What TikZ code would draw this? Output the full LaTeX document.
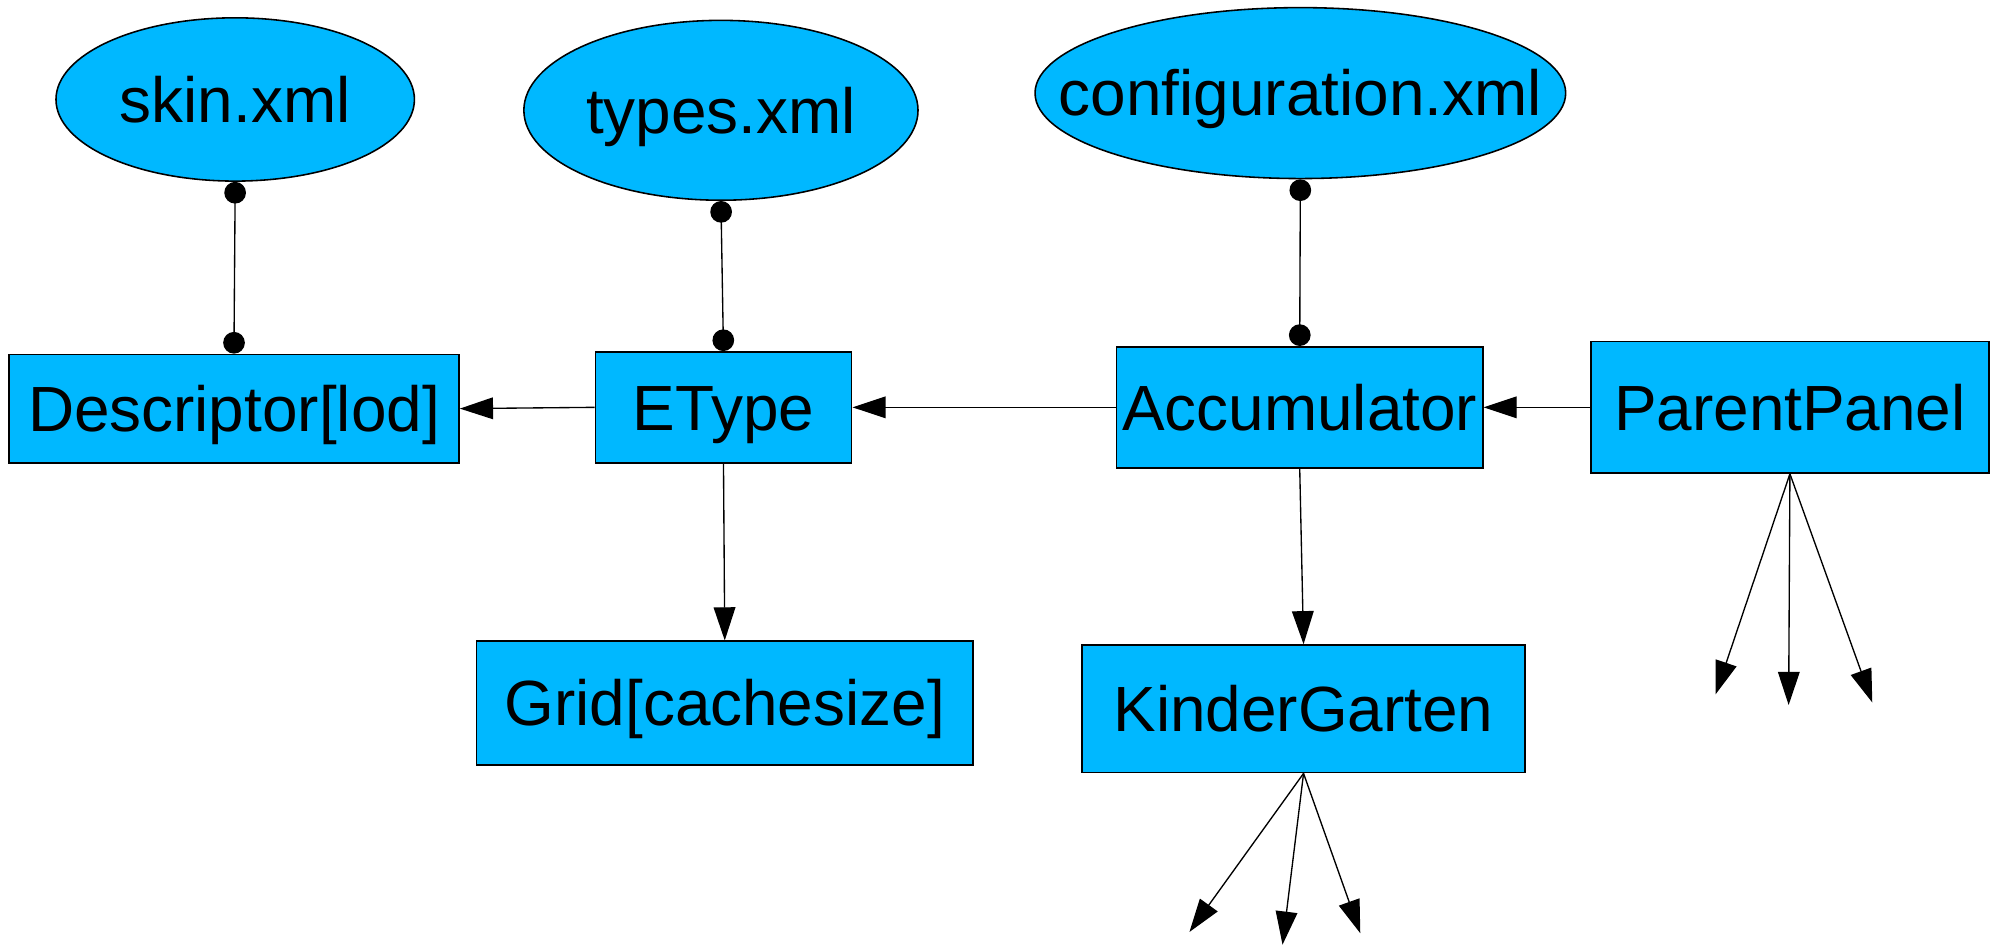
\documentclass[tikz,border=0pt]{standalone}
\usepackage{fontspec}
\setmainfont{Liberation Sans}
\usepackage{tikz}
\usetikzlibrary{shapes.geometric,arrows.meta}

\definecolor{boxblue}{RGB}{0,184,255}
\tikzset{
  box/.style={rectangle,draw=black,fill=boxblue,line width=0.35pt,inner sep=0pt},
  xmlfile/.style={ellipse,draw=black,fill=boxblue,line width=0.35pt,inner sep=0pt},
  uses/.style={line width=0.3pt,-{Triangle[length=2.6mm,width=1.7mm]}},
  reads/.style={line width=0.3pt,{Circle[length=1.7mm]}-{Circle[length=1.7mm]}},
}

\begin{document}
\begin{tikzpicture}[x=0.01cm,y=-0.01cm,font=\fontsize{14.25pt}{17pt}\selectfont,
  every node/.append style={text height=10.2pt,text depth=0pt}]
\useasboundingbox (0,0) rectangle (1568,741);
% xml files
\node[xmlfile,minimum width=2.81cm,minimum height=1.28cm,label=center:{skin.xml}] (skin) at (184.5,78) {};
\node[xmlfile,minimum width=3.09cm,minimum height=1.41cm,label=center:{types.xml}] (types) at (565.5,86.5) {};
\node[xmlfile,minimum width=4.16cm,minimum height=1.34cm,label=center:{configuration.xml}] (config) at (1020,73) {};
% classes
\node[box,minimum width=3.53cm,minimum height=0.85cm] (desc) at (183.5,320.5) {Descriptor[lod]};
\node[box,minimum width=2.01cm,minimum height=0.87cm] (etype) at (567.5,319.5) {EType};
\node[box,minimum width=2.87cm,minimum height=0.95cm] (accum) at (1019.5,319.5) {Accumulator};
\node[box,minimum width=3.12cm,minimum height=1.03cm] (parent) at (1404,319.5) {ParentPanel};
\node[box,minimum width=3.89cm,minimum height=0.97cm] (grid) at (568.5,551.5) {Grid[cachesize]};
\node[box,minimum width=3.47cm,minimum height=1.00cm] (kinder) at (1022.5,556) {KinderGarten};
% free ends
\coordinate (kg1) at (933,731);
\coordinate (kg2) at (1006,741);
\coordinate (kg3) at (1067,732);
\coordinate (pp1) at (1345.7,544.6);
\coordinate (pp2) at (1403,553);
\coordinate (pp3) at (1468.6,551);
% connectors
\draw[reads] (skin.south) -- (desc.north);
\draw[reads] (types.south) -- (etype.north);
\draw[reads] (config.south) -- (accum.north);
\draw[uses] (etype.west) -- (desc.east);
\draw[uses] (accum.west) -- (etype.east);
\draw[uses] (parent.west) -- (accum.east);
\draw[uses] (etype.south) -- (grid.north);
\draw[uses] (accum.south) -- (kinder.north);
\foreach \c in {kg1,kg2,kg3}
  \draw[uses] (kinder.south) -- (\c);
\foreach \c in {pp1,pp2,pp3}
  \draw[uses] (parent.south) -- (\c);
\end{tikzpicture}
\end{document}
